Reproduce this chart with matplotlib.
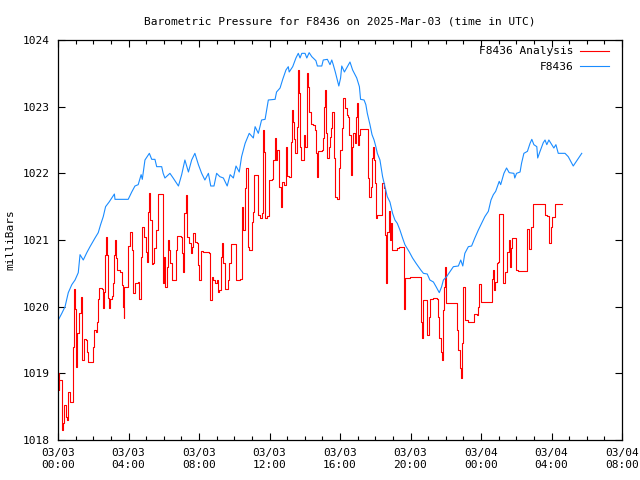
import numpy as np
import pandas as pd
import matplotlib
matplotlib.use("Agg")
import matplotlib.pyplot as plt
import matplotlib.dates as mdates
from matplotlib.ticker import MultipleLocator

# =====================
# data (minutes after 2025-03-03 00:00 UTC, pressure in mbar)
# =====================
obs_min = [1, 13, 24, 35, 47, 58, 69, 75, 86, 98, 109, 126, 137, 145, 154, 162, 174, 192, 194, 239,
           251, 262, 273, 283, 287, 296, 311, 319, 330, 336, 353, 358, 364, 381, 392, 404, 410, 421, 432, 444,
           455, 466, 478, 489, 500, 512, 520, 531, 540, 551, 563, 576, 586, 597, 606, 617, 625, 637, 651, 665,
           671, 682, 693, 705, 716, 739, 744, 756, 765, 776, 784, 787, 799, 810, 818, 824, 830, 841, 847, 855,
           864, 878, 883, 898, 903, 917, 926, 932, 937, 944, 951, 956, 962, 966, 975, 985, 994, 1003, 1017, 1026,
           1030, 1042, 1048, 1053, 1062, 1069, 1076, 1082, 1087, 1096, 1105, 1113, 1121, 1130, 1139, 1147, 1155, 1164, 1173, 1181,
           1196, 1207, 1219, 1235, 1244, 1257, 1266, 1278, 1287, 1298, 1306, 1312, 1323, 1332, 1346, 1363, 1371, 1378, 1385, 1397,
           1408, 1419, 1431, 1442, 1453, 1465, 1474, 1482, 1490, 1502, 1507, 1518, 1527, 1536, 1552, 1555, 1561, 1573, 1578, 1586,
           1598, 1607, 1613, 1620, 1630, 1633, 1641, 1652, 1658, 1664, 1671, 1681, 1688, 1695, 1703, 1726, 1737, 1754, 1783]
obs_val = [1019.80, 1019.90, 1020.00, 1020.21, 1020.33, 1020.40, 1020.51, 1020.78, 1020.70, 1020.81,
           1020.90, 1021.03, 1021.11, 1021.23, 1021.35, 1021.50, 1021.57, 1021.69, 1021.61, 1021.61,
           1021.72, 1021.81, 1021.83, 1021.98, 1021.91, 1022.20, 1022.30, 1022.21, 1022.21, 1022.10,
           1022.10, 1022.00, 1021.93, 1022.00, 1021.93, 1021.85, 1021.81, 1021.98, 1022.20, 1022.02,
           1022.20, 1022.30, 1022.13, 1022.00, 1021.90, 1022.00, 1021.81, 1021.81, 1022.00, 1021.95,
           1021.93, 1021.81, 1021.98, 1021.93, 1022.11, 1022.02, 1022.25, 1022.45, 1022.60, 1022.53,
           1022.70, 1022.60, 1022.80, 1022.81, 1023.10, 1023.11, 1023.22, 1023.28, 1023.41, 1023.55,
           1023.60, 1023.52, 1023.60, 1023.73, 1023.80, 1023.73, 1023.80, 1023.80, 1023.73, 1023.81,
           1023.75, 1023.69, 1023.61, 1023.61, 1023.70, 1023.71, 1023.63, 1023.70, 1023.63, 1023.52,
           1023.40, 1023.31, 1023.43, 1023.61, 1023.52, 1023.60, 1023.67, 1023.55, 1023.43, 1023.30,
           1023.11, 1023.10, 1023.03, 1022.90, 1022.73, 1022.58, 1022.50, 1022.40, 1022.30, 1022.20,
           1021.95, 1021.80, 1021.65, 1021.57, 1021.40, 1021.30, 1021.25, 1021.15, 1021.03, 1020.93,
           1020.82, 1020.73, 1020.65, 1020.55, 1020.50, 1020.49, 1020.40, 1020.37, 1020.30, 1020.21,
           1020.30, 1020.40, 1020.45, 1020.51, 1020.60, 1020.61, 1020.70, 1020.61, 1020.80, 1020.90,
           1020.91, 1021.03, 1021.15, 1021.25, 1021.35, 1021.43, 1021.60, 1021.68, 1021.73, 1021.88,
           1021.83, 1022.00, 1022.08, 1022.01, 1022.00, 1021.93, 1022.00, 1022.02, 1022.15, 1022.30,
           1022.33, 1022.45, 1022.51, 1022.43, 1022.40, 1022.23, 1022.33, 1022.46, 1022.50, 1022.43,
           1022.50, 1022.43, 1022.38, 1022.43, 1022.30, 1022.30, 1022.25, 1022.11, 1022.30]

ana_min = [1, 2, 4, 13, 15, 18, 21, 27, 32, 35, 41, 52, 52, 55, 58, 61, 66, 71, 77, 81,
           86, 90, 94, 98, 101, 117, 120, 124, 128, 134, 137, 141, 149, 152, 158, 160, 162, 166, 169, 174,
           177, 185, 188, 191, 194, 196, 201, 211, 217, 220, 224, 226, 234, 239, 246, 251, 256, 262, 273, 277,
           282, 287, 294, 299, 303, 307, 311, 314, 319, 324, 327, 334, 341, 353, 356, 359, 362, 365, 370, 375,
           379, 381, 387, 395, 402, 406, 419, 423, 427, 430, 436, 440, 447, 452, 456, 461, 466, 472, 478, 481,
           486, 495, 513, 517, 523, 529, 534, 540, 546, 549, 554, 557, 561, 568, 578, 583, 589, 603, 606, 620,
           625, 631, 637, 640, 646, 651, 659, 665, 667, 676, 682, 688, 693, 697, 699, 702, 706, 712, 718, 727,
           733, 738, 742, 746, 751, 758, 761, 769, 775, 781, 786, 792, 796, 799, 803, 807, 813, 815, 818, 821,
           824, 827, 835, 838, 842, 847, 849, 852, 855, 860, 867, 874, 878, 881, 885, 899, 903, 906, 910, 913,
           917, 921, 926, 929, 934, 940, 944, 951, 956, 960, 966, 971, 977, 983, 988, 992, 997, 1001, 1005, 1010,
           1013, 1017, 1020, 1025, 1028, 1053, 1056, 1060, 1064, 1068, 1071, 1075, 1079, 1082, 1087, 1102, 1104, 1111, 1114, 1117,
           1121, 1126, 1130, 1134, 1138, 1153, 1160, 1173, 1178, 1181, 1198, 1232, 1236, 1239, 1243, 1255, 1257, 1262, 1266, 1275,
           1291, 1295, 1298, 1303, 1306, 1310, 1314, 1316, 1320, 1332, 1351, 1357, 1363, 1368, 1372, 1375, 1378, 1380, 1385, 1397,
           1412, 1416, 1425, 1431, 1434, 1439, 1473, 1478, 1482, 1485, 1489, 1493, 1499, 1502, 1510, 1514, 1519, 1522, 1529, 1534,
           1539, 1542, 1546, 1553, 1558, 1567, 1595, 1597, 1604, 1609, 1616, 1618, 1650, 1658, 1666, 1670, 1672, 1677, 1683, 1692, 1715]
ana_val = [1019.00, 1018.75, 1018.90, 1018.42, 1018.15, 1018.26, 1018.53, 1018.35, 1018.30, 1018.72,
           1018.57, 1018.57, 1019.40, 1020.26, 1019.96, 1019.10, 1019.60, 1019.90, 1020.15, 1019.20,
           1019.20, 1019.52, 1019.50, 1019.32, 1019.17, 1019.17, 1019.40, 1019.65, 1019.62, 1019.77,
           1020.11, 1020.28, 1020.26, 1019.98, 1020.22, 1020.78, 1021.05, 1020.78, 1020.13, 1019.98,
           1020.11, 1020.16, 1020.36, 1020.78, 1021.00, 1020.73, 1020.55, 1020.52, 1020.33, 1020.00,
           1019.83, 1020.30, 1020.30, 1020.91, 1021.12, 1020.85, 1020.20, 1020.35, 1020.37, 1020.11,
           1020.75, 1021.19, 1021.05, 1020.82, 1020.67, 1021.42, 1021.70, 1021.30, 1020.64, 1020.65,
           1020.88, 1021.15, 1021.69, 1021.69, 1021.03, 1020.35, 1020.75, 1020.30, 1020.60, 1021.00,
           1020.85, 1020.65, 1020.40, 1020.40, 1020.85, 1021.06, 1021.05, 1020.80, 1020.52, 1021.40,
           1021.67, 1021.05, 1020.95, 1020.80, 1020.90, 1021.11, 1020.97, 1020.95, 1020.62, 1020.40,
           1020.84, 1020.82, 1020.81, 1020.10, 1020.45, 1020.40, 1020.35, 1020.40, 1020.22, 1020.25,
           1020.75, 1020.95, 1020.65, 1020.26, 1020.40, 1020.65, 1020.94, 1020.94, 1020.40, 1020.41,
           1021.50, 1021.15, 1021.78, 1022.08, 1020.90, 1020.85, 1021.27, 1021.42, 1021.98, 1021.98,
           1021.38, 1021.33, 1021.40, 1022.00, 1022.65, 1022.32, 1021.33, 1021.36, 1021.90, 1021.91,
           1022.20, 1022.53, 1022.20, 1022.35, 1021.80, 1021.50, 1021.87, 1021.83, 1022.40, 1021.96,
           1021.95, 1022.47, 1022.95, 1022.77, 1022.51, 1022.30, 1022.35, 1022.70, 1023.55, 1023.20,
           1022.40, 1022.20, 1022.20, 1022.58, 1022.40, 1022.85, 1023.50, 1023.30, 1022.92, 1022.74,
           1022.73, 1022.65, 1022.30, 1021.95, 1022.34, 1022.35, 1022.53, 1023.00, 1023.25, 1022.60,
           1022.23, 1022.40, 1022.55, 1022.68, 1022.92, 1022.23, 1021.65, 1021.61, 1022.08, 1022.35,
           1022.68, 1023.13, 1022.98, 1022.88, 1022.85, 1022.58, 1021.98, 1022.40, 1022.60, 1022.45,
           1022.85, 1023.05, 1022.43, 1022.58, 1022.66, 1022.66, 1021.93, 1021.65, 1021.80, 1022.23,
           1022.40, 1022.20, 1021.85, 1021.33, 1021.38, 1021.38, 1021.85, 1021.78, 1021.08, 1020.35,
           1021.12, 1021.43, 1021.00, 1021.25, 1020.85, 1020.88, 1020.89, 1020.89, 1019.96, 1020.43,
           1020.44, 1020.44, 1019.77, 1019.53, 1020.10, 1020.10, 1019.58, 1019.85, 1020.11, 1020.13,
           1020.11, 1019.85, 1019.53, 1019.32, 1019.20, 1019.95, 1020.30, 1020.60, 1020.05, 1020.05,
           1020.05, 1019.65, 1019.35, 1019.08, 1018.93, 1019.45, 1020.00, 1020.30, 1019.80, 1019.77,
           1019.77, 1019.89, 1019.88, 1020.00, 1020.34, 1020.07, 1020.07, 1020.41, 1020.55, 1020.25,
           1020.37, 1020.66, 1020.67, 1021.39, 1021.39, 1020.35, 1020.35, 1020.52, 1020.82, 1021.00,
           1020.60, 1020.88, 1021.03, 1021.03, 1020.55, 1020.54, 1020.54, 1021.16, 1020.86, 1021.20,
           1021.49, 1021.54, 1021.54, 1021.38, 1021.36, 1021.18, 1020.95, 1021.20, 1021.35, 1021.54, 1021.54]

start = pd.Timestamp("2025-03-03 00:00")
end = pd.Timestamp("2025-03-04 08:00")
obs_t = start + pd.to_timedelta(obs_min, unit="min")
ana_t = start + pd.to_timedelta(ana_min, unit="min")

# =====================
# plot
# =====================
plt.rcParams["font.family"] = ["DejaVu Sans Mono"]
plt.rcParams["font.size"] = 8

fig = plt.figure(figsize=(6.4, 4.8), dpi=100)
ax = fig.add_axes([58 / 640, 40 / 480, 564 / 640, 400 / 480])

ax.plot(ana_t, ana_val, color="#ff0000", linewidth=0.8, drawstyle="steps-post", label="F8436 Analysis")
ax.plot(obs_t, obs_val, color="#1a8cff", linewidth=0.8, label="F8436")

ax.set_xlim(start, end)
ax.set_ylim(1018, 1024)
ax.yaxis.set_major_locator(MultipleLocator(1))
ax.xaxis.set_major_locator(mdates.HourLocator(byhour=[0, 4, 8, 12, 16, 20]))
ax.xaxis.set_minor_locator(mdates.HourLocator())
ax.xaxis.set_major_formatter(mdates.DateFormatter("%m/%d\n%H:%M"))

ax.tick_params(which="both", direction="in", top=True, right=True, width=0.8, labelsize=8)
ax.tick_params(which="major", length=5, pad=6)
ax.tick_params(which="minor", length=3)
for s in ax.spines.values():
    s.set_linewidth(0.9)

ax.set_title("Barometric Pressure for F8436 on 2025-Mar-03 (time in UTC)", fontsize=8, pad=11)
ax.set_ylabel("milliBars", fontsize=8, labelpad=5)

ax.legend(loc="upper right", bbox_to_anchor=(0.985, 0.995), frameon=False, markerfirst=False, fontsize=8,
          handlelength=2.6, handletextpad=0.6, labelspacing=0.5,
          borderaxespad=0.0, alignment="right")

fig.savefig("out.png", dpi=100)
